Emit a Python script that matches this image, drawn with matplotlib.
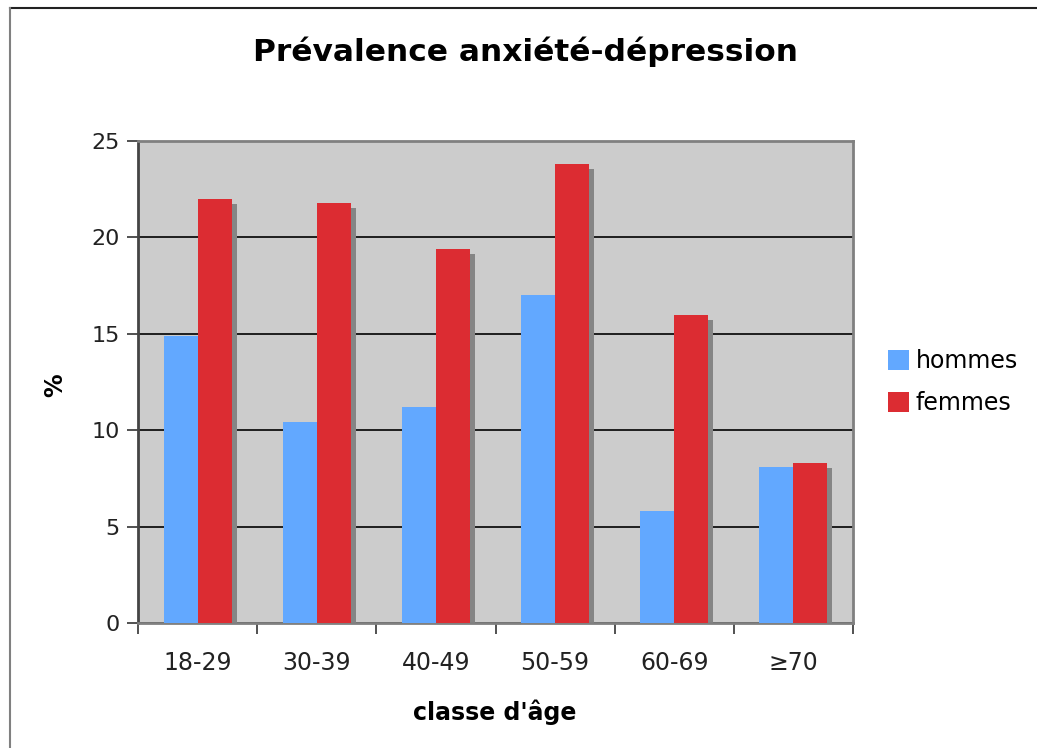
import numpy as np
import matplotlib.pyplot as plt
import matplotlib.transforms as mtransforms
from matplotlib.lines import Line2D

plt.rcParams['font.family'] = ['DejaVu Sans']

# Data
categories = ['18-29', '30-39', '40-49', '50-59', '60-69', '≥70']
hommes = [14.9, 10.4, 11.2, 17.0, 5.8, 8.1]
femmes = [22.0, 21.8, 19.4, 23.8, 16.0, 8.3]
yticks = [0, 5, 10, 15, 20, 25]

blue = '#62a8ff'
red = '#dc2c32'

fig = plt.figure(figsize=(10.37, 7.48), dpi=100)
fig.patch.set_facecolor('white')
# outer frame of the chart (only top and left edges are visible)
fx, fy = 9.5 / 1037, 1 - 7.5 / 748
fig.lines.append(Line2D([fx, 1], [fy, fy], transform=fig.transFigure,
                        color='#222222', linewidth=1.5))
fig.lines.append(Line2D([fx, fx], [0, fy], transform=fig.transFigure,
                        color='#808080', linewidth=1.5))

ax = fig.add_axes([0.1331, 0.1671, 0.6895, 0.6444])
ax.set_facecolor('#cccccc')

x = np.arange(len(categories))
w = 0.285

# shadow behind the bars (offset a few pixels right/down)
shadow = mtransforms.offset_copy(ax.transData, fig=fig, x=5, y=-5, units='dots')
ax.bar(x - w / 2, hommes, w, color='#858585', transform=shadow, zorder=2)
ax.bar(x + w / 2, femmes, w, color='#858585', transform=shadow, zorder=2)

ax.bar(x - w / 2, hommes, w, color=blue, label='hommes', zorder=3)
ax.bar(x + w / 2, femmes, w, color=red, label='femmes', zorder=3)

ax.set_xlim(-0.5, len(categories) - 0.5)
ax.set_ylim(0, 25)

# gridlines
ax.set_yticks(yticks)
ax.yaxis.grid(True, color='black', linewidth=1.2)
ax.set_axisbelow(True)

# x ticks: labels at centres, tick marks at boundaries
ax.set_xticks(x)
ax.set_xticklabels(categories)
ax.set_xticks(np.arange(-0.5, len(categories)), minor=True)
ax.tick_params(axis='x', which='major', length=0, pad=20, labelsize=17, labelcolor='#222222')
ax.tick_params(axis='x', which='minor', length=8, width=1.2, color='#333333')
ax.tick_params(axis='y', length=8, width=1.2, color='#333333', labelsize=16,
               labelcolor='#222222', pad=5)

for s in ax.spines.values():
    s.set_color('#808080')
    s.set_linewidth(2)
ax.spines['left'].set_color('#444444')

fig.text(0.507, 1 - 52 / 748, 'Prévalence anxiété-dépression', fontsize=22.5,
         fontweight='bold', ha='center', va='center')
fig.text(495 / 1037, 1 - 712 / 748, "classe d'âge", fontsize=17, fontweight='bold',
         ha='center', va='center')
fig.text(55 / 1037, 1 - 385 / 748, '%', fontsize=17, fontweight='bold',
         rotation=90, ha='center', va='center')

ax.legend(loc='center left', bbox_to_anchor=(1.035, 0.5), frameon=False, fontsize=17,
          handlelength=0.9, handleheight=0.9, handletextpad=0.3, labelspacing=0.75,
          borderaxespad=0)

plt.savefig('out.png', dpi=100)
